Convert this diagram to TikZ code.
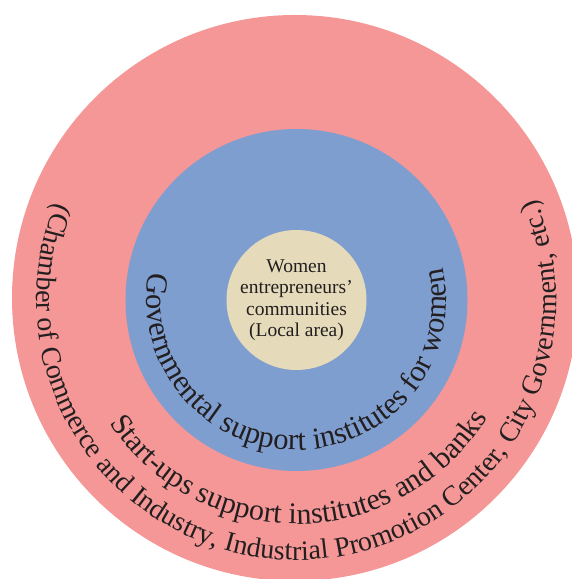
\documentclass[tikz,border=0pt]{standalone}
\usepackage{fontspec}
\setmainfont{Liberation Serif}
\usetikzlibrary{decorations.text}
\definecolor{ringpink}{HTML}{F49796}
\definecolor{ringblue}{HTML}{7F9ED0}
\definecolor{ringbeige}{HTML}{E5DAB9}
\definecolor{textdark}{HTML}{231F20}
\tikzset{
  ring/.style={circle, inner sep=0pt, draw=none},
  curvedtext/.style={decorate, decoration={text along path, text align=center, text={#1}}}
}
\begin{document}
\begin{tikzpicture}[x=1pt,y=1pt]
\useasboundingbox (0,0) rectangle (571,579);
\node[ring, fill=ringpink, minimum size=566pt] (outer) at (295,281) {};
\node[ring, fill=ringblue, minimum size=342pt] (middle) at (296.5,279) {};
\node[ring, fill=ringbeige, minimum size=140pt] (core) at (296.5,279) {};
\node[align=center, text=textdark, font=\fontsize{19.5}{21.5}\selectfont] (coretext) at (core.center) {Women\\entrepreneurs'\\communities\\(Local area)};
\path[curvedtext={|\fontsize{30.5}{36}\selectfont\color{textdark}|Governmental support institutes for women}]
  (middle.center) ++(169.4:150) arc[start angle=169.4, end angle=372.4, radius=150];
\path[curvedtext={|\fontsize{30}{35}\selectfont\color{textdark}|Start-ups support institutes and banks}]
  (middle.center) ++(210:224) arc[start angle=210, end angle=331.8, radius=224];
\path[curvedtext={|\fontsize{28}{33}\selectfont\color{textdark}|(Chamber of Commerce and Industry, Industrial Promotion Center, City Government, etc.)}]
  (middle.center) ++(157.4:260) arc[start angle=157.4, end angle=383.3, radius=260];
\end{tikzpicture}
\end{document}
